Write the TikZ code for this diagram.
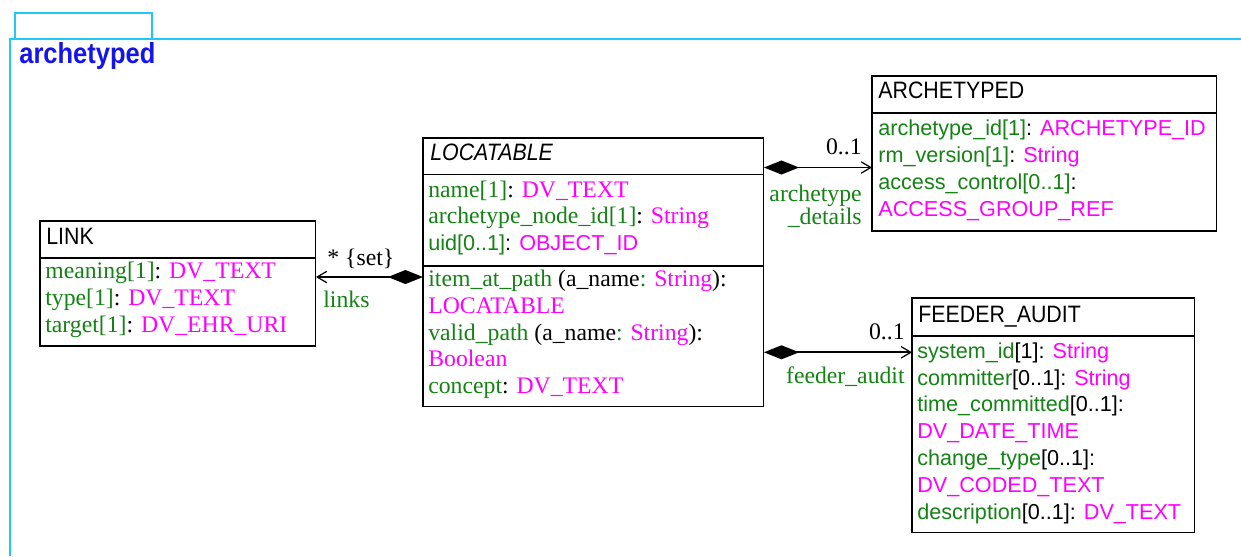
\documentclass[tikz,border=0pt]{standalone}
\usepackage{fontspec}
\setmainfont{Liberation Serif}
\newfontfamily\umlsans{Liberation Sans}
\newfontfamily\umlhead[FakeStretch=0.9]{Liberation Sans}
\newfontfamily\pkgfont[FakeStretch=0.88]{Liberation Sans}
\usetikzlibrary{arrows.meta}

\definecolor{pkgcyan}{RGB}{32,200,245}
\definecolor{pkgblue}{RGB}{20,20,235}
\definecolor{fieldgreen}{RGB}{20,130,20}
\definecolor{typemagenta}{RGB}{255,0,255}

\newcommand{\fld}[1]{\textcolor{fieldgreen}{#1}}
\newcommand{\typ}[1]{\textcolor{typemagenta}{#1}}
\newcommand{\sanstext}{\umlsans\fontsize{12.3}{15}\selectfont}

\tikzset{
  classbox/.style={draw=black, line width=0.6pt, inner sep=0pt, outer sep=0pt, anchor=north west},
  classname/.style={font=\umlhead\fontsize{13.5}{15}\selectfont, anchor=base west, inner sep=0pt},
  attrserif/.style={font=\fontsize{13.5}{15}\selectfont, anchor=base west, inner sep=0pt},
  attrsans/.style={font=\sanstext, anchor=base west, inner sep=0pt},
  rolelabel/.style={font=\fontsize{13.5}{15}\selectfont, text=fieldgreen, inner sep=0pt},
  multlabel/.style={font=\fontsize{13.5}{15}\selectfont, inner sep=0pt},
  compose/.style={line width=1.1pt,
    {Diamond[length=20pt,width=8pt]}-{Straight Barb[length=5.5pt,width=6.5pt,line width=0.7pt]}},
}

\begin{document}
\begin{tikzpicture}[x=0.02cm, y=-0.02cm]
    \useasboundingbox (0,0) rectangle (1241,556);
    % package frame
    \draw[pkgcyan, line width=1.1pt] (15,39) rectangle (152,13);
    \draw[pkgcyan, line width=1.1pt] (1241,39) -- (10,39) -- (10,556);
    \node[font=\pkgfont\bfseries\fontsize{16.5}{19}\selectfont, text=pkgblue, anchor=base west, inner sep=0pt] (pkgname) at (19,63) {archetyped};

    % LINK
    \node[classbox, minimum width=5.52cm, minimum height=2.5cm] (link) at (40,221) {};
    \draw[line width=0.6pt] (link.north west) ++(0,37) -- ++(276,0);
    \node[classname] (linkName) at (46,244) {LINK};
    \foreach \ln [count=\i] in {{\fld{meaning[1]}: \typ{DV\_TEXT}},
                                {\fld{type[1]}: \typ{DV\_TEXT}},
                                {\fld{target[1]}: \typ{DV\_EHR\_URI}}} {
        \node[attrserif] (linkAttr\i) at (45,251.5+27*\i) {\ln};
    }

    % LOCATABLE
    \node[classbox, minimum width=6.82cm, minimum height=5.38cm] (loc) at (423,138) {};
    \draw[line width=0.6pt] (loc.north west) ++(0,36.5) -- ++(341,0);
    \draw[line width=0.6pt] (loc.north west) ++(0,128) -- ++(341,0);
    \node[classname] (locName) at (430,160) {\itshape LOCATABLE};
    \foreach \ln [count=\i] in {{\fld{name[1]}: \typ{DV\_TEXT}},
                                {\fld{archetype\_node\_id[1]}: \typ{String}},
                                {\sanstext\fld{uid[0..1]}: \typ{OBJECT\_ID}}} {
        \node[attrserif] (locAttr\i) at (428,170.3+26.7*\i) {\ln};
    }
    \foreach \ln [count=\i] in {{\fld{item\_at\_path} (a\_name\fld{:} \typ{String}):},
                                {\typ{LOCATABLE}},
                                {\fld{valid\_path} (a\_name\fld{:} \typ{String}):},
                                {\typ{Boolean}},
                                {\fld{concept}: \typ{DV\_TEXT}}} {
        \node[attrserif] (locOp\i) at (428,260+26.67*\i) {\ln};
    }

    % ARCHETYPED
    \node[classbox, minimum width=6.9cm, minimum height=3.1cm] (arch) at (872,76) {};
    \draw[line width=0.6pt] (arch.north west) ++(0,37) -- ++(345,0);
    \node[classname] (archName) at (878,98.5) {ARCHETYPED};
    \foreach \ln [count=\i] in {{\fld{archetype\_id[1]}: \typ{ARCHETYPE\_ID}},
                                {\fld{rm\_version[1]}: \typ{String}},
                                {\fld{access\_control[0..1]}:},
                                {\typ{ACCESS\_GROUP\_REF}}} {
        \node[attrsans] (archAttr\i) at (878,107.8+27.2*\i) {\ln};
    }

    % FEEDER_AUDIT
    \node[classbox, minimum width=5.66cm, minimum height=4.7cm] (feed) at (912,298) {};
    \draw[line width=0.6pt] (feed.north west) ++(0,38) -- ++(283,0);
    \node[classname] (feedName) at (918,322.3) {FEEDER\_AUDIT};
    \foreach \ln [count=\i] in {{\fld{system\_id}[1]: \typ{String}},
                                {\fld{committer}[0..1]: \typ{String}},
                                {\fld{time\_committed}[0..1]:},
                                {\typ{DV\_DATE\_TIME}},
                                {\fld{change\_type}[0..1]:},
                                {\typ{DV\_CODED\_TEXT}},
                                {\fld{description}[0..1]: \typ{DV\_TEXT}}} {
        \node[attrsans] (feedAttr\i) at (917,331.5+26.8*\i) {\ln};
    }

    % associations
    \coordinate (linksEnd) at (link.east |- 0,277);
    \draw[compose] (loc.west |- linksEnd) -- (linksEnd);
    \node[multlabel, anchor=base west] (linksMult) at (327,265) {* \{set\}};
    \node[rolelabel, anchor=base west] (linksRole) at (323,307) {links};

    \coordinate (archIn) at (arch.west |- 0,167.5);
    \draw[compose] (loc.east |- archIn) -- (archIn);
    \node[multlabel, anchor=base east] (archMult) at (862,154) {0..1};
    \node[rolelabel, anchor=base east] (archRole) at (862,201) {archetype};
    \node[rolelabel, anchor=base east] (archRole2) at (862,224) {\_details};

    \coordinate (feedIn) at (feed.west |- 0,352.3);
    \draw[compose] (loc.east |- feedIn) -- (feedIn);
    \node[multlabel, anchor=base east] (feedMult) at (905,339.3) {0..1};
    \node[rolelabel, anchor=base east] (feedRole) at (905,383.3) {feeder\_audit};
\end{tikzpicture}
\end{document}
